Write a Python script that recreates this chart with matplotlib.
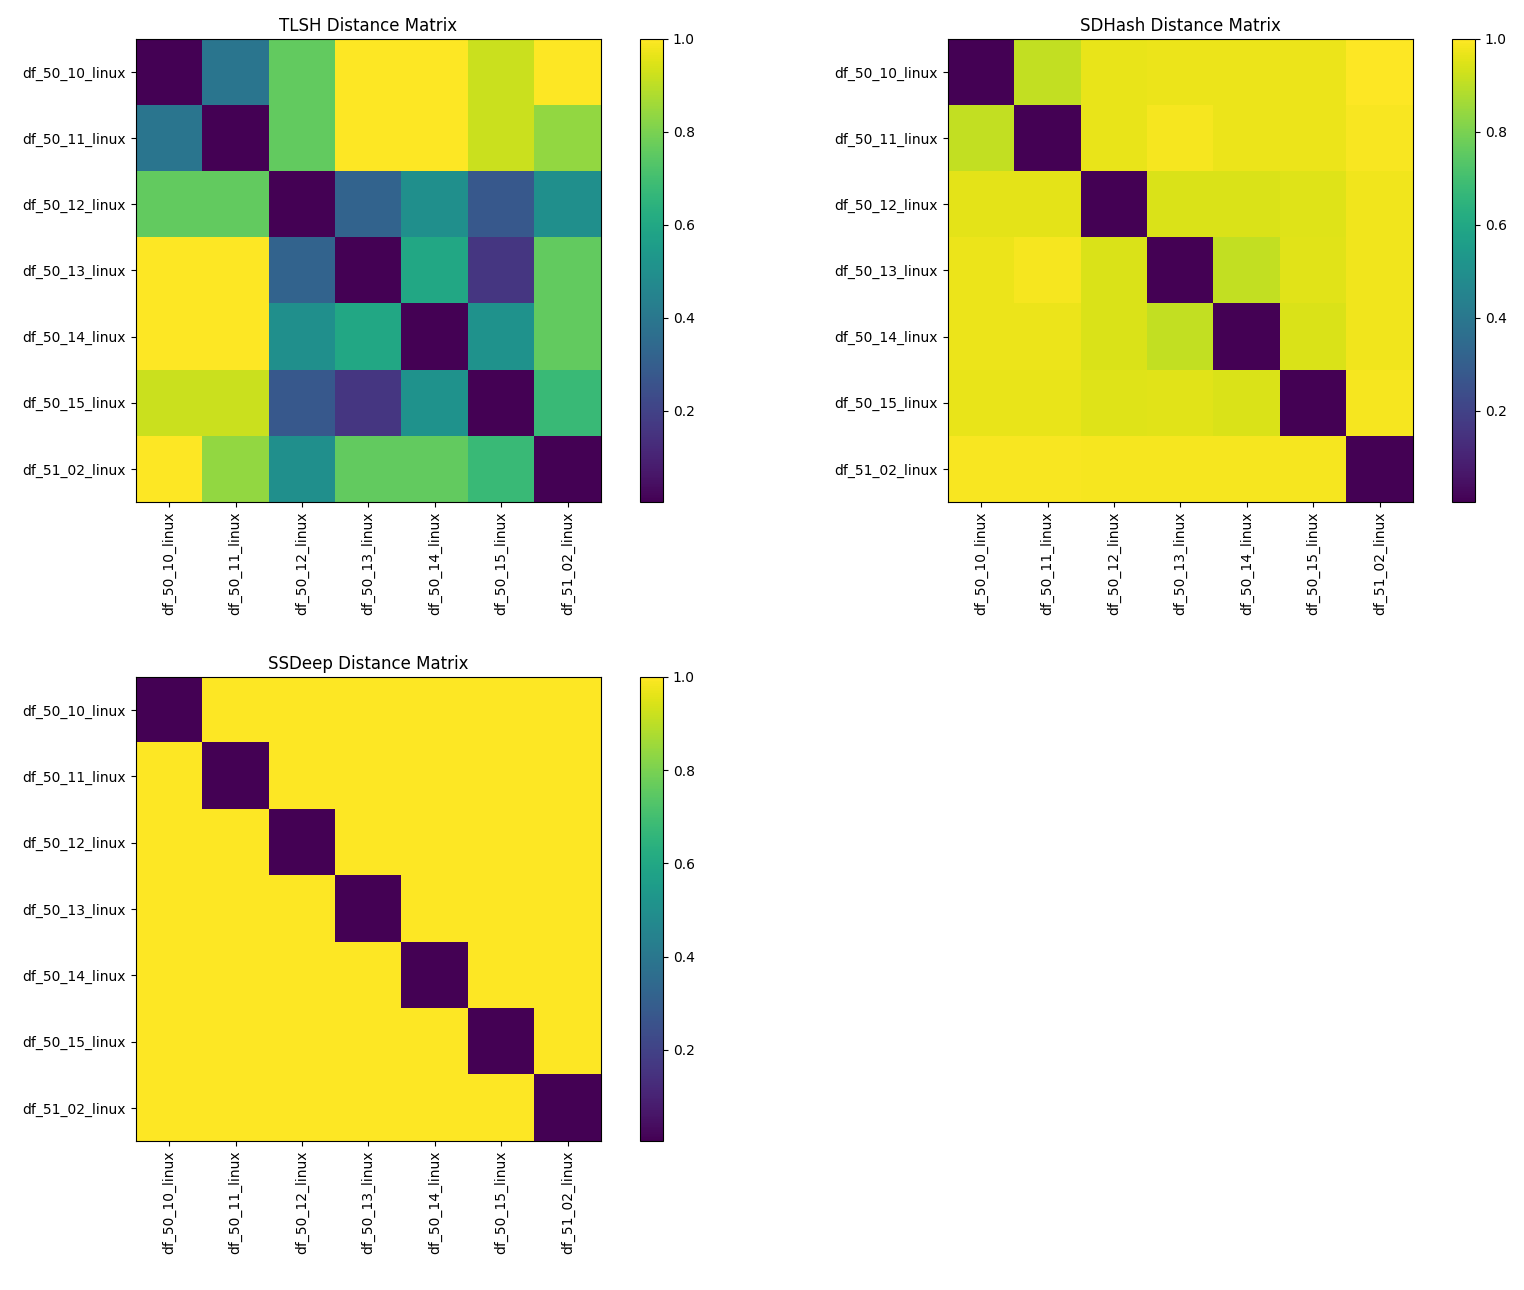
import numpy as np
import matplotlib
matplotlib.use('Agg')
import matplotlib.pyplot as plt

# etiquetas de los ficheros
nombres = ['df_50_10_linux', 'df_50_11_linux', 'df_50_12_linux', 'df_50_13_linux',
           'df_50_14_linux', 'df_50_15_linux', 'df_51_02_linux']

d0 = 0.004  # diagonal

tlsh = np.array([
    [d0,   0.39, 0.76, 1.00, 1.00, 0.92, 1.00],
    [0.39, d0,   0.76, 1.00, 1.00, 0.92, 0.84],
    [0.76, 0.76, d0,   0.32, 0.50, 0.28, 0.50],
    [1.00, 1.00, 0.32, d0,   0.60, 0.16, 0.76],
    [1.00, 1.00, 0.50, 0.60, d0,   0.51, 0.76],
    [0.92, 0.92, 0.28, 0.16, 0.51, d0,   0.68],
    [1.00, 0.84, 0.50, 0.76, 0.76, 0.68, d0],
])

sdhash = np.array([
    [d0,    0.91,  0.965, 0.97,  0.97,  0.97,  1.00],
    [0.91,  d0,    0.965, 0.985, 0.97,  0.97,  0.99],
    [0.96,  0.96,  d0,    0.945, 0.945, 0.95,  0.98],
    [0.97,  0.985, 0.945, d0,    0.91,  0.955, 0.98],
    [0.97,  0.97,  0.945, 0.91,  d0,    0.945, 0.98],
    [0.965, 0.965, 0.95,  0.955, 0.945, d0,    0.985],
    [0.99,  0.99,  0.985, 0.985, 0.985, 0.985, d0],
])

ssdeep = np.where(np.eye(7) == 1, d0, 1.0)

matrices = [('TLSH Distance Matrix', tlsh),
            ('SDHash Distance Matrix', sdhash),
            ('SSDeep Distance Matrix', ssdeep)]

# posiciones de los ejes (en fraccion de figura)
pos_ax = [[0.0892, 0.6109, 0.3051, 0.3589],
          [0.6220, 0.6109, 0.3051, 0.3589],
          [0.0892, 0.1155, 0.3051, 0.3597]]
pos_cb = [[0.4199, 0.6109, 0.0151, 0.3589],
          [0.9528, 0.6109, 0.0151, 0.3589],
          [0.4199, 0.1155, 0.0151, 0.3597]]

fig = plt.figure(figsize=(15.24, 12.9), dpi=100)

for i, (titulo, m) in enumerate(matrices):
    ax = fig.add_axes(pos_ax[i])
    im = ax.imshow(m, cmap='viridis', aspect='auto', interpolation='nearest')
    ax.set_title(titulo)
    ax.set_xticks(range(len(nombres)))
    ax.set_yticks(range(len(nombres)))
    ax.set_xticklabels(nombres, rotation=90)
    ax.set_yticklabels(nombres)
    cax = fig.add_axes(pos_cb[i])
    fig.colorbar(im, cax=cax)

plt.savefig('out.png', dpi=100)
